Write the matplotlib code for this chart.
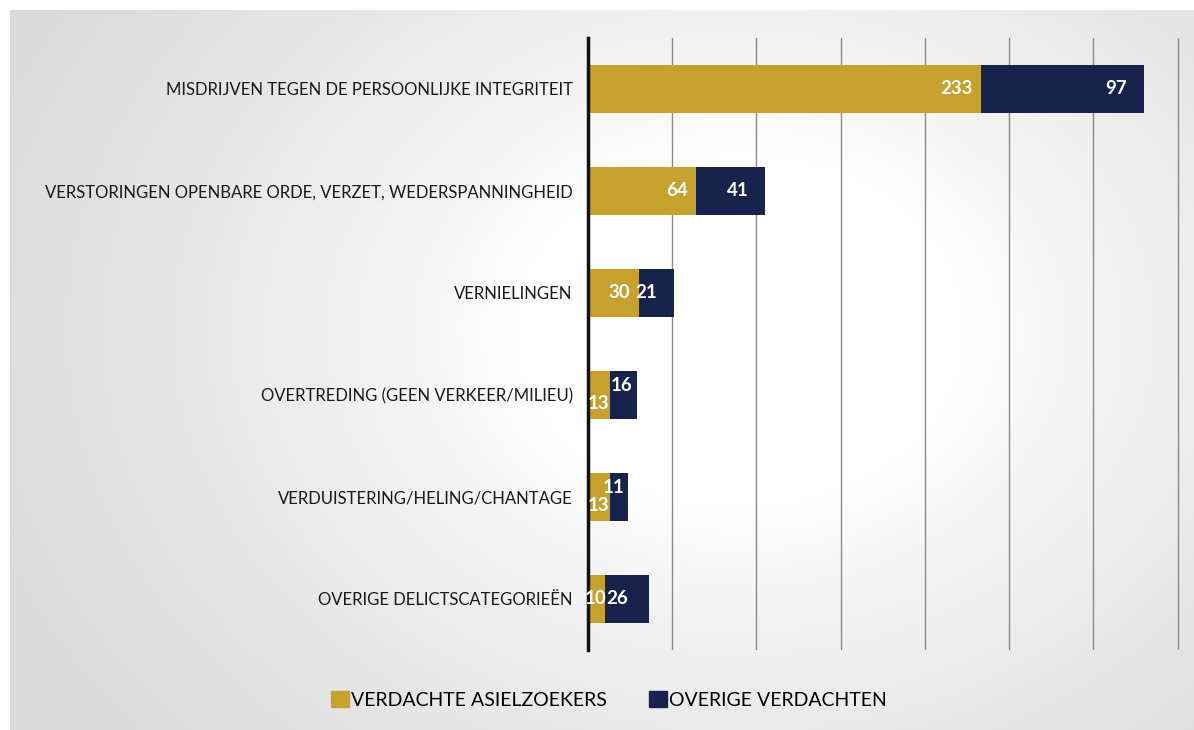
import numpy as np
import matplotlib.pyplot as plt
from matplotlib.patches import Patch

plt.rcParams['font.family'] = ['Lato', 'DejaVu Sans']

# data
categories = ['MISDRIJVEN TEGEN DE PERSOONLIJKE INTEGRITEIT',
              'VERSTORINGEN OPENBARE ORDE, VERZET, WEDERSPANNINGHEID',
              'VERNIELINGEN',
              'OVERTREDING (GEEN VERKEER/MILIEU)',
              'VERDUISTERING/HELING/CHANTAGE',
              'OVERIGE DELICTSCATEGORIEËN']
asielzoekers = [233, 64, 30, 13, 13, 10]
overige = [97, 41, 21, 16, 11, 26]
series_names = ['VERDACHTE ASIELZOEKERS', 'OVERIGE VERDACHTEN']

gold = '#c6a12e'
navy = '#17234a'

fig = plt.figure(figsize=(11.94, 7.3), dpi=100)

# scanned-paper background: grey with a light centre
bg = fig.add_axes([0, 0, 1, 1], zorder=-10)
yy, xx = np.mgrid[0:730, 0:1194]
d = np.sqrt(((xx - 740) / 560.0) ** 2 + ((yy - 330) / 440.0) ** 2)
shade = np.clip(1.0 - 0.14 * np.clip(d - 0.4, 0, None) ** 0.8, 0.855, 1.0)
img = np.dstack([shade, shade, shade * 1.005])
img = np.clip(img, 0, 1)
img[:10, :] = 1.0
img[:, :10] = 1.0
bg.imshow(img, aspect='auto', extent=[0, 1, 0, 1], origin='upper')
bg.axis('off')

ax = fig.add_axes([0.4925, 0.11, 0.498, 0.838])
ax.patch.set_alpha(0)
y = np.arange(len(categories))
h = 0.47
ax.barh(y, asielzoekers, height=h, color=gold, zorder=3)
ax.barh(y, overige, left=asielzoekers, height=h, color=navy, zorder=3)

ax.set_xlim(0, 353)
ax.set_ylim(len(categories) - 0.5, -0.5)
ax.set_xticks(np.arange(50, 351, 50))
ax.set_xticklabels([])
ax.tick_params(axis='x', length=0)
ax.tick_params(axis='y', length=0, pad=11)
ax.set_yticks(y)
ax.set_yticklabels(categories, fontsize=12, color='#1a1a1a')
ax.grid(axis='x', color='#8a8a8a', lw=1)
for s in ['top', 'right', 'bottom']:
    ax.spines[s].set_visible(False)
ax.spines['left'].set_linewidth(2.5)
ax.spines['left'].set_color('#111111')
ax.spines['left'].set_zorder(4)

lab = dict(color='white', fontsize=13.5, fontweight='bold', zorder=5, textcoords='offset points')
for i, (a, o) in enumerate(zip(asielzoekers, overige)):
    if a >= 20:
        ax.annotate(str(a), (a, i), xytext=(-6, 0), ha='right', va='center', **lab)
    elif o >= 20:
        ax.annotate(str(a), (a, i), xytext=(1, 0), ha='right', va='center', **lab)
    else:
        ax.annotate(str(a), (0, i), xytext=(0, -6), ha='left', va='center', **lab)
    if o >= 20 and a >= 20:
        ax.annotate(str(o), (a + o, i), xytext=(-12, 0), ha='right', va='center', **lab)
    elif o >= 20:
        ax.annotate(str(o), (a, i), xytext=(1, 0), ha='left', va='center', **lab)
    else:
        ax.annotate(str(o), (a + o, i), xytext=(-3, 7), ha='right', va='center', **lab)

handles = [Patch(color=gold), Patch(color=navy)]
fig.legend(handles, series_names, loc='center', bbox_to_anchor=(0.51, 0.041), ncol=2,
           frameon=False, fontsize=14, handlelength=0.9, handleheight=0.9,
           handletextpad=0.1, columnspacing=2.2)

fig.savefig('out.png', dpi=100)
